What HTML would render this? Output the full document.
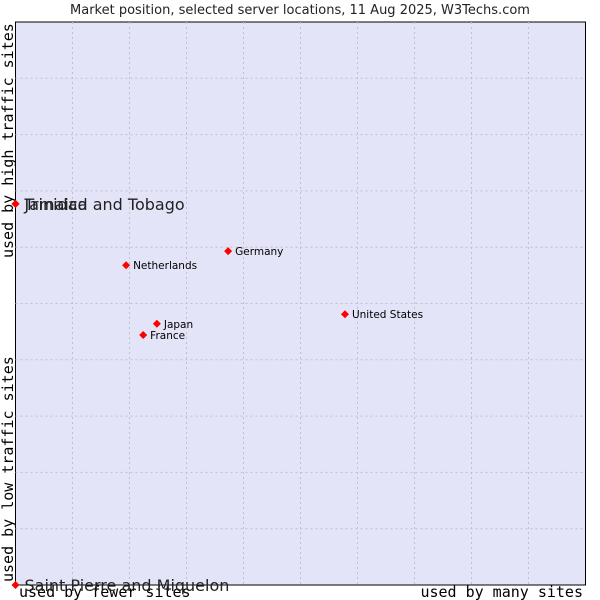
<!DOCTYPE html>
<html><head><meta charset="utf-8"><style>
body{margin:0;background:#fff;width:600px;height:600px;overflow:hidden}
svg{display:block}
</style></head><body>
<svg id="chart" width="600" height="600" xmlns="http://www.w3.org/2000/svg">
<text x="300" y="14" text-anchor="middle" font-family="DejaVu Sans, sans-serif" font-size="13" fill="#222">Market position, selected server locations, 11 Aug 2025, W3Techs.com</text>
<rect x="15.5" y="22" width="570" height="563" fill="#e3e4f8" stroke="#000" stroke-width="1"/>
<g id="grid"></g>
<text x="19" y="597" font-family="DejaVu Sans Mono, Liberation Mono, monospace" font-size="15" fill="#000">used by fewer sites</text>
<text x="583" y="597" text-anchor="end" font-family="DejaVu Sans Mono, Liberation Mono, monospace" font-size="15" fill="#000">used by many sites</text>
<text transform="translate(13,582) rotate(-90)" font-family="DejaVu Sans Mono, Liberation Mono, monospace" font-size="15" fill="#000">used by low traffic sites</text>
<text transform="translate(13,258) rotate(-90)" font-family="DejaVu Sans Mono, Liberation Mono, monospace" font-size="15" fill="#000">used by high traffic sites</text>
<g id="points"></g>
</svg>
<script>
const names = ["Jamaica","Trinidad and Tobago","Germany","Netherlands","United States","Japan","France","Saint Pierre and Miquelon"];
const xValues = [0,0,37.3,19.4,57.8,24.8,22.4,0];
const yValues = [67.7,67.7,59.3,56.8,48.1,46.4,44.4,0];
const bigLabel = [true,true,false,false,false,false,false,true];
const NS="http://www.w3.org/2000/svg";
const L=15.5,R=585.5,T=22,B=585;
const sx=v=>L+(R-L)*v/100, sy=v=>B-(B-T)*v/100;
const grid=document.getElementById('grid');
for(let i=1;i<10;i++){
  const v=document.createElementNS(NS,'line');
  v.setAttribute('x1',sx(i*10));v.setAttribute('x2',sx(i*10));v.setAttribute('y1',T);v.setAttribute('y2',B);
  v.setAttribute('stroke','#c0c0c8');v.setAttribute('stroke-dasharray','2,3');
  
  
  grid.appendChild(v);
  const h=document.createElementNS(NS,'line');
  h.setAttribute('y1',sy(i*10));h.setAttribute('y2',sy(i*10));h.setAttribute('x1',L);h.setAttribute('x2',R);
  h.setAttribute('stroke','#c0c0c8');h.setAttribute('stroke-dasharray','2,3');
  
  
  grid.appendChild(h);
}
const pts=document.getElementById('points');
names.forEach((n,i)=>{
  const x=sx(xValues[i]),y=sy(yValues[i]);
  const d=document.createElementNS(NS,'path');
  d.setAttribute('d',`M${x-4},${y} L${x},${y-4} L${x+4},${y} L${x},${y+4} Z`);
  d.setAttribute('fill','#f00');
  
  
  pts.appendChild(d);
  const t=document.createElementNS(NS,'text');
  t.setAttribute('x',x+(bigLabel[i]?9:7));
  t.setAttribute('y',y+(bigLabel[i]?6:4));
  t.setAttribute('font-family','DejaVu Sans, sans-serif');
  t.setAttribute('font-size',bigLabel[i]?'16':'10.5');
  t.setAttribute('fill',bigLabel[i]?'#222':'#000');
  t.textContent=n;
  
  
  pts.appendChild(t);
});
</script>
</body></html>
